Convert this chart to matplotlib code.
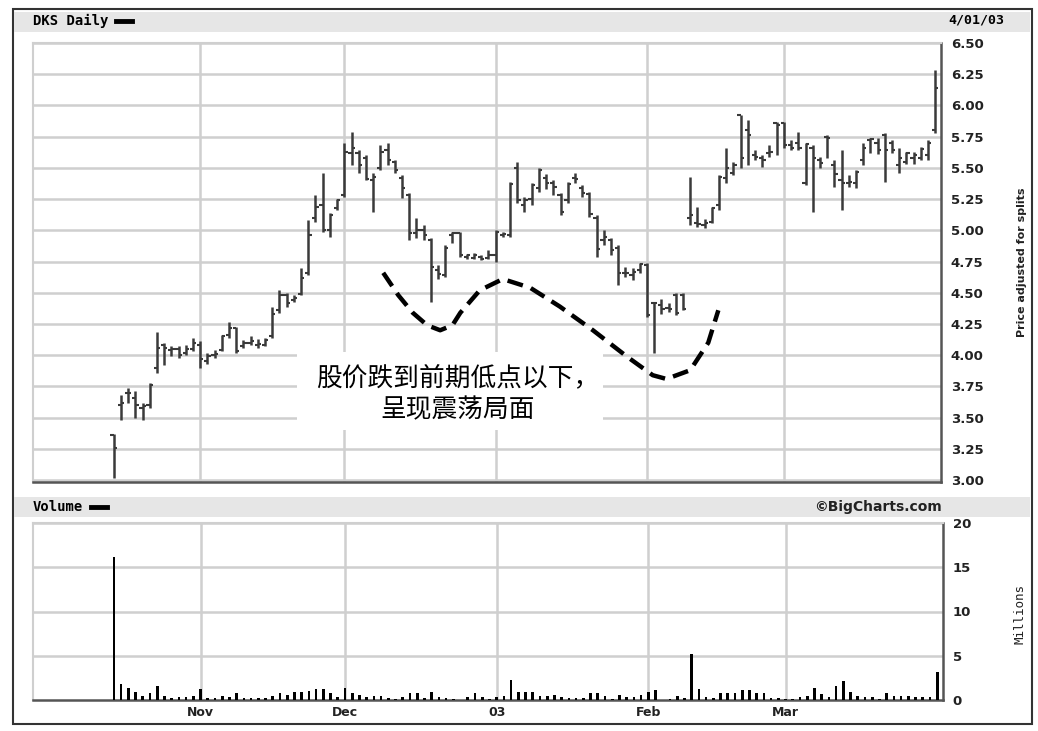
import numpy as np
import pandas as pd
import matplotlib
matplotlib.use("Agg")
import matplotlib.pyplot as plt
from matplotlib.patches import Rectangle
from matplotlib.lines import Line2D

# trading days, DKS from IPO (2002-10-16) to 2003-04-01
holidays = ["2002-11-28", "2002-12-25", "2003-01-01", "2003-01-20", "2003-02-17"]
dates = pd.bdate_range("2002-10-16", "2003-04-01")
dates = dates[~dates.isin(pd.to_datetime(holidays))]

highs = [3.37, 3.68, 3.74, 3.71, 3.62, 3.78, 4.19, 4.10, 4.07, 4.07, 4.08, 4.14,
         4.11, 4.02, 4.04, 4.16, 4.27, 4.23, 4.12, 4.15, 4.13, 4.14, 4.39, 4.52,
         4.50, 4.48, 4.70, 5.08, 5.28, 5.46, 5.14, 5.25, 5.70, 5.79, 5.64, 5.60,
         5.46, 5.68, 5.70, 5.56, 5.44, 5.30, 5.10, 5.04, 4.94, 4.72, 4.88, 4.99,
         4.99, 4.81, 4.82, 4.80, 4.84, 5.00, 4.99, 5.39, 5.55, 5.27, 5.38, 5.50,
         5.45, 5.40, 5.30, 5.39, 5.46, 5.36, 5.31, 5.12, 5.00, 4.94, 4.88, 4.71,
         4.70, 4.74, 4.74, 4.43, 4.45, 4.42, 4.50, 4.50, 5.43, 5.19, 5.09, 5.19,
         5.44, 5.66, 5.55, 5.92, 5.88, 5.64, 5.60, 5.68, 5.87, 5.87, 5.72, 5.79,
         5.70, 5.68, 5.59, 5.76, 5.56, 5.64, 5.44, 5.48, 5.70, 5.74, 5.74, 5.78,
         5.72, 5.66, 5.63, 5.63, 5.67, 5.72, 6.28]
lows = [3.02, 3.48, 3.62, 3.50, 3.48, 3.58, 3.86, 3.92, 3.99, 3.98, 4.00, 4.03,
        3.90, 3.93, 3.98, 4.03, 4.14, 4.02, 4.06, 4.08, 4.06, 4.07, 4.14, 4.34,
        4.39, 4.43, 4.48, 4.64, 5.07, 4.99, 4.95, 5.16, 5.27, 5.52, 5.46, 5.40,
        5.15, 5.48, 5.52, 5.46, 5.26, 4.92, 4.94, 4.92, 4.43, 4.61, 4.63, 4.90,
        4.79, 4.77, 4.77, 4.76, 4.77, 4.75, 4.95, 4.95, 5.22, 5.15, 5.20, 5.31,
        5.33, 5.28, 5.12, 5.22, 5.38, 5.27, 5.11, 4.79, 4.88, 4.80, 4.56, 4.63,
        4.60, 4.66, 4.31, 4.02, 4.33, 4.35, 4.32, 4.36, 5.04, 5.03, 5.02, 5.06,
        5.16, 5.38, 5.44, 5.50, 5.52, 5.56, 5.51, 5.59, 5.60, 5.66, 5.64, 5.64,
        5.36, 5.15, 5.50, 5.58, 5.35, 5.16, 5.35, 5.34, 5.52, 5.62, 5.61, 5.39,
        5.62, 5.46, 5.53, 5.53, 5.56, 5.56, 5.78]
opens = [3.36, 3.60, 3.70, 3.66, 3.58, 3.60, 3.90, 4.08, 4.04, 4.05, 4.02, 4.05,
         4.08, 3.95, 4.00, 4.04, 4.16, 4.22, 4.07, 4.10, 4.08, 4.08, 4.15, 4.36,
         4.48, 4.44, 4.49, 4.66, 5.10, 5.20, 5.00, 5.18, 5.28, 5.62, 5.62, 5.58,
         5.40, 5.50, 5.64, 5.55, 5.42, 5.28, 4.98, 5.00, 4.92, 4.68, 4.64, 4.96,
         4.98, 4.79, 4.78, 4.79, 4.78, 4.80, 4.96, 4.96, 5.50, 5.20, 5.25, 5.34,
         5.42, 5.38, 5.28, 5.24, 5.42, 5.34, 5.29, 5.10, 4.92, 4.92, 4.86, 4.66,
         4.64, 4.68, 4.72, 4.42, 4.40, 4.38, 4.48, 4.48, 5.10, 5.06, 5.04, 5.07,
         5.20, 5.42, 5.46, 5.92, 5.80, 5.60, 5.58, 5.62, 5.86, 5.86, 5.68, 5.70,
         5.38, 5.66, 5.56, 5.75, 5.52, 5.40, 5.38, 5.38, 5.56, 5.72, 5.70, 5.76,
         5.70, 5.52, 5.55, 5.58, 5.58, 5.60, 5.80]
closes = [3.26, 3.62, 3.70, 3.60, 3.59, 3.76, 4.06, 4.06, 4.05, 4.00, 4.05, 4.10,
          3.97, 3.99, 4.01, 4.15, 4.22, 4.03, 4.10, 4.11, 4.09, 4.12, 4.33, 4.48,
          4.42, 4.46, 4.62, 4.96, 5.19, 5.00, 5.12, 5.24, 5.63, 5.66, 5.52, 5.41,
          5.43, 5.63, 5.56, 5.48, 5.34, 4.98, 5.00, 4.96, 4.71, 4.65, 4.86, 4.98,
          4.80, 4.80, 4.80, 4.77, 4.80, 4.99, 4.97, 5.37, 5.24, 5.24, 5.36, 5.48,
          5.38, 5.35, 5.15, 5.37, 5.41, 5.30, 5.13, 4.85, 4.95, 4.84, 4.66, 4.66,
          4.67, 4.73, 4.32, 4.42, 4.37, 4.37, 4.34, 4.37, 5.12, 5.05, 5.06, 5.18,
          5.43, 5.50, 5.52, 5.58, 5.76, 5.59, 5.56, 5.63, 5.84, 5.68, 5.66, 5.66,
          5.69, 5.58, 5.54, 5.74, 5.45, 5.38, 5.39, 5.47, 5.66, 5.73, 5.64, 5.64,
          5.64, 5.58, 5.62, 5.60, 5.65, 5.70, 6.14]
volume = [16.2, 1.85, 1.4, 0.9, 0.4, 0.8, 1.6, 0.4, 0.2, 0.3, 0.3, 0.4,
          1.25, 0.2, 0.2, 0.4, 0.3, 0.8, 0.2, 0.2, 0.2, 0.2, 0.5, 0.8,
          0.6, 0.95, 0.95, 1.0, 1.2, 1.2, 0.75, 0.3, 1.4, 0.75, 0.6, 0.3,
          0.4, 0.4, 0.2, 0.1, 0.3, 0.8, 0.8, 0.2, 0.9, 0.3, 0.2, 0.1,
          0.05, 0.3, 0.75, 0.3, 0.1, 0.3, 0.5, 2.3, 0.95, 0.85, 0.9, 0.5,
          0.4, 0.6, 0.3, 0.2, 0.2, 0.2, 0.75, 0.8, 0.4, 0.1, 0.6, 0.3,
          0.3, 0.6, 0.9, 1.1, 0.05, 0.1, 0.5, 0.2, 5.2, 1.25, 0.3, 0.2,
          0.75, 0.8, 0.8, 1.1, 1.1, 0.8, 0.8, 0.2, 0.2, 0.1, 0.1, 0.3,
          0.5, 1.4, 0.7, 0.3, 1.6, 2.2, 0.9, 0.4, 0.3, 0.3, 0.1, 0.8,
          0.4, 0.4, 0.4, 0.3, 0.3, 0.3, 3.2]

# hand-drawn dashed curve (day index, price)
curve_day = [37.4, 39.5, 41.5, 43.5, 45.3, 47.0, 48.1, 50.8, 54.0, 57.8, 61.9,
             66.5, 71.2, 74.8, 76.7, 80.0, 82.5, 83.9]
curve_price = [4.66, 4.48, 4.34, 4.24, 4.20, 4.24, 4.34, 4.52, 4.61, 4.54, 4.39,
               4.20, 3.99, 3.84, 3.81, 3.88, 4.10, 4.36]

note_text = "股价跌到前期低点以下，\n呈现震荡局面"
price_ticks = [3.00, 3.25, 3.50, 3.75, 4.00, 4.25, 4.50, 4.75, 5.00, 5.25,
               5.50, 5.75, 6.00, 6.25, 6.50]
vol_ticks = [0, 5, 10, 15, 20]

assert len(dates) == len(highs) == len(lows) == len(opens) == len(closes) == len(volume)
x = np.arange(len(dates))
month_pos = [i for i in range(1, len(dates)) if dates[i].month != dates[i - 1].month and dates[i].month != 4]
month_lab = [("03" if dates[i].month == 1 else dates[i].strftime("%b")) for i in month_pos]

W, H = 1038, 731
fig = plt.figure(figsize=(W / 100, H / 100), dpi=100)
fig.patch.set_facecolor("white")

def fx(px): return px / W
def fy(py): return 1 - py / H

# outer frame and header bands
fig.add_artist(Rectangle((fx(12.5), fy(724)), fx(1032 - 12.5), (724 - 9) / H,
                         transform=fig.transFigure, fill=False, ec="#333333", lw=1.5))
for top, bot in [(12, 32), (497, 517)]:
    fig.add_artist(Rectangle((fx(14), fy(bot)), fx(1030 - 14), (bot - top) / H,
                             transform=fig.transFigure, fc="#e6e6e6", ec="none"))

mono = "DejaVu Sans Mono"
fig.text(fx(33), fy(21), "DKS Daily", family=mono, fontsize=10, weight="bold", va="center")
fig.add_artist(Line2D([fx(116), fx(132)], [fy(21), fy(21)], color="black", lw=3.5, transform=fig.transFigure))
fig.text(fx(1004), fy(20), "4/01/03", family=mono, fontsize=9.5, weight="bold", va="center", ha="right")
fig.text(fx(33), fy(507), "Volume", family=mono, fontsize=10, weight="bold", va="center")
fig.add_artist(Line2D([fx(91), fx(107)], [fy(507), fy(507)], color="black", lw=3.5, transform=fig.transFigure))
fig.text(fx(942), fy(507), "©BigCharts.com", fontsize=10, weight="bold", va="center", ha="right", color="#222222")

grid_c = "#cfcfcf"
bar_c = "#3a3a3a"
xlim = (-11.2, 114.8)

# price panel
ax = fig.add_axes([fx(33), fy(482), fx(941 - 33), (482 - 43) / H])
ax.set_xlim(*xlim)
ax.set_ylim(2.985, 6.5)
for p in price_ticks:
    ax.axhline(p, color=grid_c, lw=1.8, zorder=0)
for m in month_pos:
    ax.axvline(m, color=grid_c, lw=1.8, zorder=0)
ax.vlines(x, lows, highs, color=bar_c, lw=1.8, zorder=3)
ax.hlines(opens, x - 0.45, x, color=bar_c, lw=1.5, zorder=3)
ax.hlines(closes, x, x + 0.45, color=bar_c, lw=1.5, zorder=3)
ax.add_patch(Rectangle((0.291, 0.118), 0.337, 0.178, transform=ax.transAxes,
                       fc="white", ec="none", zorder=2))
ax.plot(curve_day, curve_price, color="black", lw=3.2, ls=(0, (3.6, 1.9)),
        solid_capstyle="butt", dash_capstyle="butt", zorder=4)
lines = note_text.split("\n")
cjk = ["Noto Sans CJK SC", "DejaVu Sans"]
ax.text(0.468, 0.237, lines[0], transform=ax.transAxes, ha="center", va="center",
        fontsize=18.5, family=cjk, weight="light", zorder=5)
ax.text(0.468, 0.164, lines[1], transform=ax.transAxes, ha="center", va="center",
        fontsize=18.5, family=cjk, weight="light", zorder=5)
ax.set_xticks([])
ax.yaxis.tick_right()
ax.set_yticks(price_ticks)
ax.set_yticklabels(["%.2f" % p for p in price_ticks], fontsize=9.5, weight="bold", color="#222222")
ax.tick_params(axis="y", length=0, pad=7)
for s in ["top", "left"]:
    ax.spines[s].set_color(grid_c)
    ax.spines[s].set_linewidth(1.5)
for s in ["right", "bottom"]:
    ax.spines[s].set_color("#555555")
    ax.spines[s].set_linewidth(1.8)
fig.text(fx(1022), fy(262), "Price adjusted for splits", rotation=90, fontsize=8,
         weight="bold", ha="center", va="center", color="#222222")

# volume panel
av = fig.add_axes([fx(33), fy(700), fx(943 - 33), (700 - 523) / H])
av.set_xlim(*xlim)
av.set_ylim(0, 20)
for v in vol_ticks[1:]:
    av.axhline(v, color=grid_c, lw=1.8, zorder=0)
for m in month_pos:
    av.axvline(m, color=grid_c, lw=1.8, zorder=0)
av.bar(x, volume, width=0.38, color="black", zorder=3)
av.yaxis.tick_right()
av.set_yticks(vol_ticks)
av.set_yticklabels([str(v) for v in vol_ticks], fontsize=9.5, weight="bold", color="#222222")
av.tick_params(axis="y", length=0, pad=7)
av.set_xticks(month_pos)
av.set_xticklabels(month_lab, fontsize=9, weight="bold", color="#222222")
av.tick_params(axis="x", length=0, pad=4)
for s in ["top", "left"]:
    av.spines[s].set_color(grid_c)
    av.spines[s].set_linewidth(1.5)
for s in ["right", "bottom"]:
    av.spines[s].set_color("#555555")
    av.spines[s].set_linewidth(1.8)
fig.text(fx(1020), fy(614), "Millions", rotation=90, family=mono, fontsize=9,
         ha="center", va="center", color="#222222")

fig.savefig("out.png", dpi=100)
